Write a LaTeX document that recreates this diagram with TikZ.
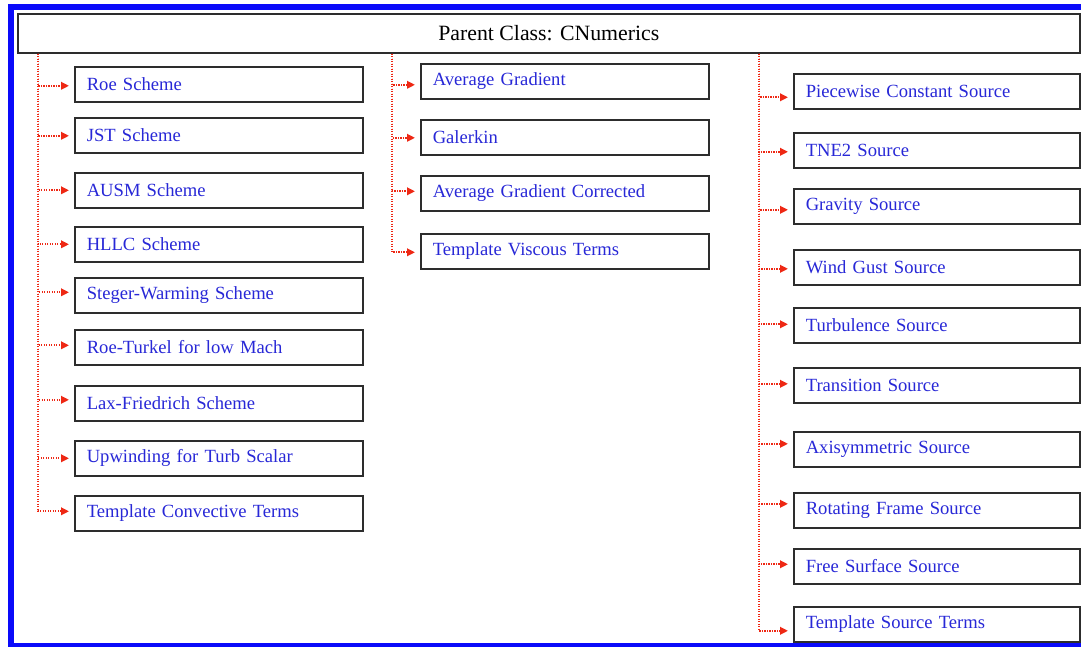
\documentclass[tikz,border=0pt]{standalone}
\usepackage{fontspec}
\setmainfont{Liberation Serif}
\usetikzlibrary{arrows.meta,calc}
\definecolor{txtblue}{RGB}{40,40,215}
\definecolor{redline}{RGB}{238,40,20}
\definecolor{frameblue}{RGB}{10,10,250}
\definecolor{boxgray}{RGB}{45,45,45}
\begin{document}
\begin{tikzpicture}[x=1pt,y=-1pt,
  childbox/.style={draw=boxgray,line width=1.6pt,rectangle,anchor=north west,
    minimum width=288pt,minimum height=35pt,text width=264pt,inner xsep=12pt,
    inner ysep=0pt,align=left,text=txtblue,font=\fontsize{18.6}{20}\selectfont},
  rightbox/.style={childbox,minimum width=286pt,text width=262pt},
  parentbox/.style={draw=boxgray,line width=1.6pt,rectangle,anchor=north west,
    minimum width=1062pt,minimum height=39pt,inner sep=0pt,
    font=\fontsize{21.8}{24}\selectfont},
  conn/.style={redline,line width=2.2pt,dash pattern=on 1.2pt off 1.3pt,
    -{Triangle[length=8pt,width=7.5pt]},shorten >=5pt}]
\fill[white] (0,0) rectangle (1081,646);
\useasboundingbox (0,0) rectangle (1081,646);
\draw[frameblue,line width=5.5pt] (10.75,6.75) rectangle (1095,646);

\node[parentbox] (parent) at (17,13) {Parent Class: CNumerics};

\coordinate (lv) at (38,0);
\coordinate (mv) at (392,0);
\coordinate (rv) at (759,0);

% left column
\foreach \n/\y/\t/\o in {roe/66/Roe Scheme/1.5, jst/117/JST Scheme/0.5,
  ausm/172/AUSM Scheme/0, hllc/226/HLLC Scheme/0,
  steger/277/Steger-Warming Scheme/-3, roet/329/Roe-Turkel for low Mach/-2,
  lax/385/Lax-Friedrich Scheme/-3.5, upw/440/Upwinding for Turb Scalar/0,
  tct/495/Template Convective Terms/-2}{
  \node[childbox] (\n) at (74,\y) {\t};
  \draw[conn] (parent.south -| lv) |- ($(\n.west)+(0,\o)$);
}

% middle column
\foreach \n/\y/\t/\o in {ag/63/Average Gradient/3.5, gal/119/Galerkin/0.5,
  agc/175/Average Gradient Corrected/-2, tvt/233/Template Viscous Terms/1}{
  \node[childbox] (\n) at (420,\y) {\t};
  \draw[conn] (parent.south -| mv) |- ($(\n.west)+(0,\o)$);
}

% right column
\foreach \n/\y/\t/\o in {pcs/73/Piecewise Constant Source/6, tne/132/TNE2 Source/1.5,
  grav/188/Gravity Source/3.5, wind/249/Wind Gust Source/1.5,
  turb/307/Turbulence Source/-1, trans/367/Transition Source/-1.5,
  axi/431/Axisymmetric Source/-5.5, rot/492/Rotating Frame Source/-6.5,
  free/548/Free Surface Source/-2, tst/606/Template Source Terms/6.5}{
  \node[rightbox] (\n) at (793,\y) {\t};
  \draw[conn] (parent.south -| rv) |- ($(\n.west)+(0,\o)$);
}
\end{tikzpicture}
\end{document}
